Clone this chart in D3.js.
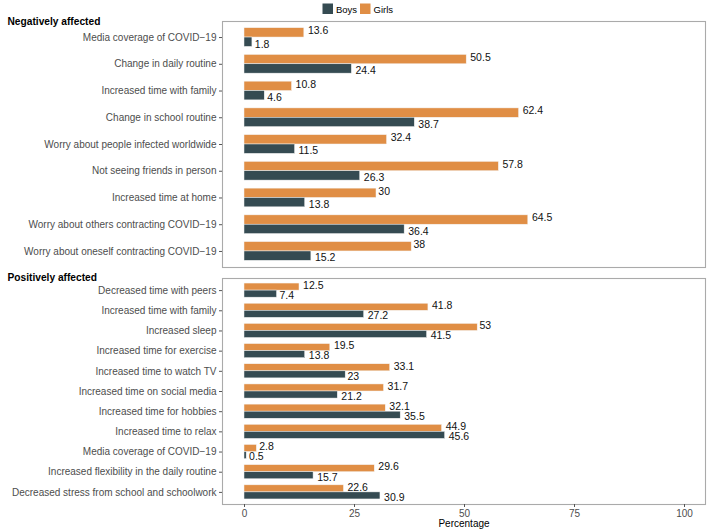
<!DOCTYPE html>
<html><head><meta charset="utf-8">
<script src="https://cdn.jsdelivr.net/npm/d3@7"></script>
<style>body{margin:0;background:#fff} svg{display:block;font-family:"Liberation Sans",Arial,Helvetica,sans-serif}</style>
</head><body><svg id="c" width="709" height="532"></svg>
<script>
const seriesNames = ["Boys", "Girls"];
const seriesColors = ["#354B52", "#E08E45"];
const panelTitles = ["Negatively affected", "Positively affected"];
const negCategories = ["Media coverage of COVID\u221219", "Change in daily routine", "Increased time with family", "Change in school routine", "Worry about people infected worldwide", "Not seeing friends in person", "Increased time at home", "Worry about others contracting COVID\u221219", "Worry about oneself contracting COVID\u221219"];
const negBoys = [1.8, 24.4, 4.6, 38.7, 11.5, 26.3, 13.8, 36.4, 15.2];
const negGirls = [13.6, 50.5, 10.8, 62.4, 32.4, 57.8, 30, 64.5, 38];
const posCategories = ["Decreased time with peers", "Increased time with family", "Increased sleep", "Increased time for exercise", "Increased time to watch TV", "Increased time on social media", "Increased time for hobbies", "Increased time to relax", "Media coverage of COVID\u221219", "Increased flexibility in the daily routine", "Decreased stress from school and schoolwork"];
const posBoys = [7.4, 27.2, 41.5, 13.8, 23, 21.2, 35.5, 45.6, 0.5, 15.7, 30.9];
const posGirls = [12.5, 41.8, 53, 19.5, 33.1, 31.7, 32.1, 44.9, 2.8, 29.6, 22.6];
const xTicks = [0, 25, 50, 75, 100];
const xTitle = "Percentage";

const svg = d3.select("#c");
const left = 222, right = 706;
const x = d3.scaleLinear().domain([-5, 105]).range([left, right]);
const color = d3.scaleOrdinal().domain(seriesNames).range(seriesColors);

const panels = [
  {title: panelTitles[0], cats: negCategories, boys: negBoys, girls: negGirls, top: 21, bottom: 267, titleY: 24.5},
  {title: panelTitles[1], cats: posCategories, boys: posBoys, girls: posGirls, top: 278, bottom: 504, titleY: 280.5}
];

panels.forEach(p => {
  const g = svg.append("g");
  const y = d3.scalePoint().domain(p.cats).range([p.top, p.bottom]).padding(0.6);
  const step = y.step();
  const dodge = d3.scaleBand().domain(["Girls", "Boys"]).range([-0.35 * step, 0.35 * step]);
  const labelOff = {Girls: -0.25 * step, Boys: 0.25 * step};
  const rows = [];
  p.cats.forEach((c, i) => {
    rows.push({cat: c, s: "Girls", v: p.girls[i]});
    rows.push({cat: c, s: "Boys", v: p.boys[i]});
  });
  // panel background and border
  g.append("rect").attr("x", left + 0.5).attr("y", p.top + 0.5)
    .attr("width", right - left - 1).attr("height", p.bottom - p.top)
    .attr("fill", "#fff").attr("stroke", "#aaaaaa").attr("stroke-width", 1.1);
  // bars
  g.selectAll("rect.bar").data(rows).join("rect").attr("class", "bar")
    .attr("x", x(0))
    .attr("y", d => y(d.cat) + dodge(d.s))
    .attr("width", d => x(d.v) - x(0))
    .attr("height", dodge.bandwidth())
    .attr("fill", d => color(d.s))
    .attr("stroke", "#f4f4f4").attr("stroke-width", 0.5);
  // value labels
  g.selectAll("text.val").data(rows).join("text").attr("class", "val")
    .attr("x", d => x(d.v))
    .attr("y", d => y(d.cat) + labelOff[d.s])
    .attr("dy", "0.36em")
    .attr("font-size", 10.5).attr("fill", "#111")
    .text(d => d.v)
    .each(function() {
      const w = this.getComputedTextLength();
      d3.select(this).attr("dx", 0.2 * w);
    });
  // y axis
  const ya = g.append("g").attr("transform", `translate(${left},0)`)
    .call(d3.axisLeft(y).tickSize(3).tickPadding(2.5));
  ya.select(".domain").remove();
  ya.selectAll(".tick line").attr("stroke", "#555");
  ya.selectAll(".tick text").attr("font-size", 10).attr("fill", "#4d4d4d")
    .attr("font-family", "'Liberation Sans',Arial,sans-serif");
  // panel title
  g.append("text").attr("x", 7.5).attr("y", p.titleY)
    .attr("font-size", 10.2).attr("font-weight", "bold").attr("fill", "#000")
    .text(p.title);
});

// x axis
const xa = svg.append("g").attr("transform", `translate(0,504)`)
  .call(d3.axisBottom(x).tickValues(xTicks).tickSize(3).tickPadding(2.5));
xa.select(".domain").remove();
xa.selectAll(".tick line").attr("stroke", "#555");
xa.selectAll(".tick text").attr("font-size", 10).attr("fill", "#4d4d4d")
  .attr("font-family", "'Liberation Sans',Arial,sans-serif");
svg.append("text").attr("x", (left + right) / 2).attr("y", 527)
  .attr("text-anchor", "middle").attr("font-size", 10).attr("fill", "#000").text(xTitle);

// legend
const lg = svg.append("g");
const legX = [322.5, 360];
seriesNames.forEach((s, i) => {
  lg.append("rect").attr("x", legX[i]).attr("y", 3.5).attr("width", 10.5).attr("height", 10.5)
    .attr("fill", color(s));
  lg.append("text").attr("x", legX[i] + 13.5).attr("y", 12.5)
    .attr("font-size", 9.5).attr("fill", "#000").text(s);
});
</script></body></html>
